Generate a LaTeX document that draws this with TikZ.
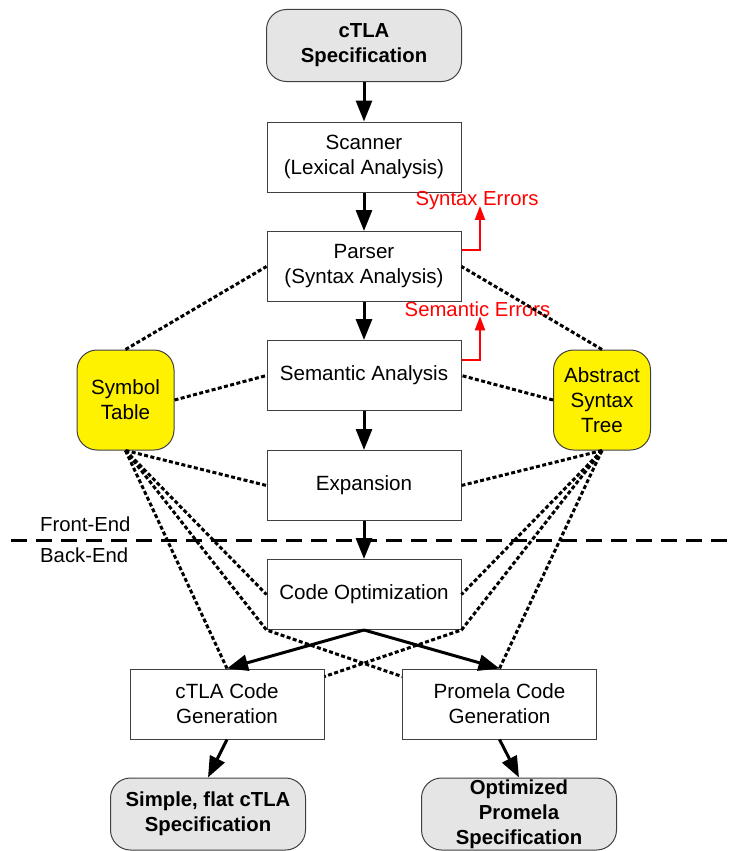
\documentclass[tikz,border=0pt]{standalone}
\usepackage{fontspec}
\setmainfont{Liberation Sans}
\usetikzlibrary{arrows.meta}
\begin{document}
\begin{tikzpicture}[x=1pt,y=-1pt,
  txt/.style={font=\fontsize{20.6}{25}\selectfont, align=center, inner sep=0pt},
  stage/.style={txt, draw=black!75, line width=1pt, fill=white,
    minimum width=194pt, minimum height=70pt},
  io/.style={txt, font=\fontsize{20.3}{25}\selectfont\bfseries, draw=black!75,
    line width=1pt, fill=black!10, rounded corners=20pt,
    minimum width=195pt, minimum height=72pt},
  store/.style={txt, draw=black!75, line width=1pt, fill=yellow,
    rounded corners=20pt, minimum width=97pt, minimum height=100pt},
  flow/.style={line width=3pt, -{Triangle[length=21pt,width=16pt]}},
  link/.style={line width=3pt, dash pattern=on 4pt off 2.4pt},
  err/.style={red, line width=2pt, -{Triangle[length=14pt,width=10pt]}},
  errlabel/.style={red, font=\fontsize{20.3}{25}\selectfont, inner sep=0pt},
  sidelabel/.style={font=\fontsize{20.3}{25}\selectfont, inner sep=0pt, anchor=west},
]
\useasboundingbox (0,0) rectangle (733,851);

% front-end / back-end boundary
\coordinate (sepL) at (11,540);
\coordinate (sepR) at (733,540);
\draw[line width=3pt, dash pattern=on 16pt off 9pt] (sepL) -- (sepR);
\node[sidelabel] (fe) at (40,524) {Front-End};
\node[sidelabel] (be) at (40,555) {Back-End};

% compiler stages
\node[io]    (spec)      at (364,45.5)  {cTLA\\Specification};
\node[stage] (scanner)   at (364,157)   {Scanner\\(Lexical Analysis)};
\node[stage] (parser)    at (364,266.5) {Parser\\(Syntax Analysis)};
\node[stage] (semantic)  at (364,375.5) {Semantic Analysis};
\node[stage] (expansion) at (364,485.5) {Expansion};
\node[stage] (codeopt)   at (364,594.5) {Code Optimization};
\node[stage] (ctlagen)   at (227,704)   {cTLA Code\\Generation};
\node[stage] (promgen)   at (499.5,704) {Promela Code\\Generation};
\node[io]    (flat)      at (208,814)   {Simple, flat cTLA\\Specification};
\node[io]    (optprom)   at (519,814)   {Optimized\\Promela\\Specification};

% shared data structures
\node[store] (symtab) at (125.5,400) {Symbol\\Table};
\node[store] (ast)    at (602,400)   {Abstract\\Syntax\\Tree};

% error outputs
\node[errlabel] (synerr) at (477,201) {Syntax Errors};
\node[errlabel] (semerr) at (477.5,309) {Semantic Errors};

% access to the symbol table
\draw[link] (symtab.north) -- (parser.west);
\draw[link] (symtab.east) -- (semantic.west);
\draw[link] (symtab.south) -- (expansion.west);
\draw[link] (symtab.south) -- (codeopt.west);
\draw[link] (symtab.south) -- (codeopt.south west) -- ([yshift=-8pt]promgen.north west);
\draw[link] (symtab.south) -- (ctlagen.north);

% access to the abstract syntax tree
\draw[link] (ast.north) -- (parser.east);
\draw[link] (ast.west) -- (semantic.east);
\draw[link] (ast.south) -- (expansion.east);
\draw[link] (ast.south) -- (codeopt.east);
\draw[link] (ast.south) -- (codeopt.south east) -- ([yshift=-8pt]ctlagen.north east);
\draw[link] (ast.south) -- (promgen.north);

% main flow
\draw[flow] (spec) -- (scanner);
\draw[flow] (scanner) -- (parser);
\draw[flow] (parser) -- (semantic);
\draw[flow] (semantic) -- (expansion);
\draw[flow] (expansion) -- (codeopt);
\draw[flow] (codeopt.south) -- (ctlagen.north);
\draw[flow] (codeopt.south) -- (promgen.north);
\draw[flow] (ctlagen.south) -- (flat.north);
\draw[flow] (promgen.south) -- (optprom.north);

% error reporting
\draw[err] ([yshift=-19pt]parser.north east) -| ([xshift=3pt]synerr.base);
\draw[err] ([yshift=-20pt]semantic.north east) -| ([xshift=2.5pt]semerr.base);
\end{tikzpicture}
\end{document}
